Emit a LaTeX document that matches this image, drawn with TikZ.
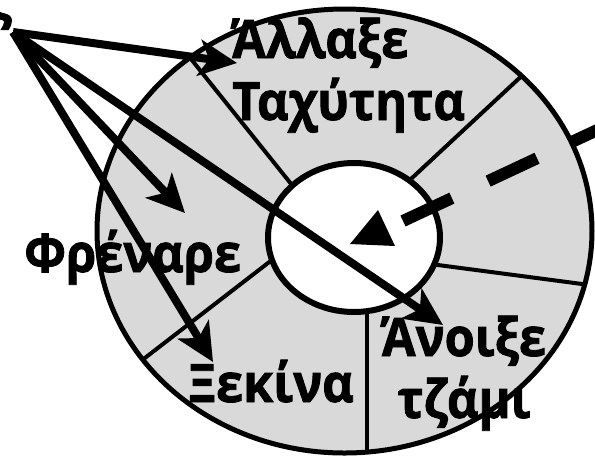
\documentclass[tikz,border=0pt]{standalone}
\usepackage{fontspec}
\setmainfont{Open Sans}[FakeStretch=0.92, BoldFeatures={FakeBold=1.5}]
\usetikzlibrary{arrows.meta}
\definecolor{ringgray}{RGB}{217,217,217}

\begin{document}
\begin{tikzpicture}[x=1pt, y=-1pt,
    label/.style={font=\bfseries\fontsize{53}{62}\selectfont, inner sep=0pt, anchor=base west},
    pointer/.style={line width=8pt, -{Stealth[length=38pt, width=36pt, inset=10pt]}},
    divider/.style={line width=4pt}
]
\useasboundingbox (0,0) rectangle (595,459);

% ring
\fill[ringgray] (344.5,231) ellipse [x radius=247.5pt, y radius=222pt];
\begin{scope}
  \clip (344.5,231) ellipse [x radius=247.5pt, y radius=222pt];
  \draw[divider] (336,240) -- (163,24);
  \draw[divider] (369,218) -- (556,44);
  \draw[divider] (400,260) -- (620,289);
  \draw[divider] (367,280) -- (367,470);
  \draw[divider] (303,236) -- (106,388);
\end{scope}
\filldraw[fill=white, line width=6pt] (354,237.5) ellipse [x radius=86pt, y radius=74.5pt];
\draw[line width=5pt] (344.5,231) ellipse [x radius=247.5pt, y radius=222pt];

% pointer in the hub
\coordinate (hub) at (403,221);
\coordinate (exit) at (640,110);
\draw[line width=12pt, dash pattern=on 54pt off 40pt] (hub) -- (exit);
\fill (378,210) -- (350,244) -- (395,246) -- cycle;

% arrows from the left
\coordinate (src) at (13,32);
\coordinate (speed) at (237,63);
\coordinate (brake) at (185,213);
\coordinate (start) at (213,362);
\coordinate (window) at (443,325);
\draw[pointer] (src) -- (speed);
\draw[pointer] (src) -- (brake);
\draw[pointer] (src) -- (start);
\draw[pointer] (src) -- (window);

% labels
\node[label, anchor=base east] (cut) at (12,20) {ς};
\node[label, align=left] (speedlbl) at (232,120) {Άλλαξε\\Ταχύτητα};
\node[label] (brakelbl) at (24,272) {Φρέναρε};
\node[label] (startlbl) at (188,402) {Ξεκίνα};
\node[label, anchor=base, align=center] (windowlbl) at (464,418) {Άνοιξε\\τζάμι};

\end{tikzpicture}
\end{document}
